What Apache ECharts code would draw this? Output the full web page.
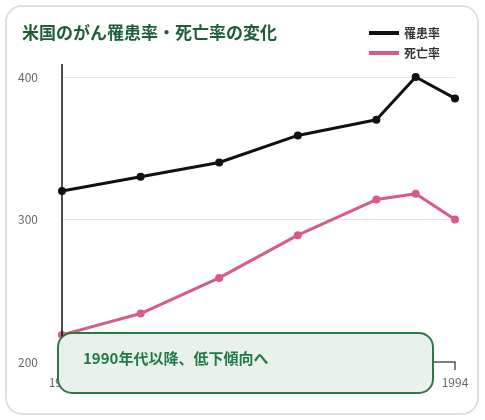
<!DOCTYPE html><html><head><meta charset="utf-8"><script src="https://cdn.jsdelivr.net/npm/echarts@6/dist/echarts.min.js"></script>
<style>body{margin:0}#c{width:485px;height:420px}</style></head><body><div id="c"></div><script>
const years=[1984,1986,1988,1990,1992,1993,1994];
const incidence=[320,330,340,359,370,400,385];
const mortality=[219,234,259,289,314,318,300];
const yTicks=[200,300,400];
const f='"Noto Sans CJK JP","Noto Sans",sans-serif';
const c=echarts.init(document.getElementById('c'));
c.setOption({
graphic:[
{type:'rect',shape:{x:6,y:6,width:472,height:408,r:16},style:{fill:'#fff',stroke:'#d8d8d8',lineWidth:1.5},z:-10},
{type:'line',shape:{x1:62,y1:64,x2:62,y2:362},style:{stroke:'#111',lineWidth:1.5},z:5},
{type:'text',left:22,top:24,style:{text:'米国のがん罹患率・死亡率の変化',font:'bold 17px '+f,fill:'#1e5e36'}},
{type:'rect',shape:{x:58,y:333,width:375,height:60,r:14},style:{fill:'#e9f1ea',stroke:'#2a7a48',lineWidth:2},z:20},
{type:'text',left:83,top:351,style:{text:'1990年代以降、低下傾向へ',font:'bold 15px '+f,fill:'#1f7a45'},z:21}
],
legend:{right:40,top:22,orient:'vertical',itemGap:8,itemWidth:30,itemHeight:4,icon:'rect',textStyle:{fontFamily:f,fontSize:12,color:'#333',fontWeight:'bold'},data:['罹患率','死亡率']},
grid:{left:62,right:30,top:77,bottom:58},
xAxis:{type:'value',min:1984,max:1994,interval:10,axisLine:{show:true,lineStyle:{color:'#555',width:1.5}},axisTick:{show:true,length:8,lineStyle:{color:'#555',width:1.5}},splitLine:{show:false},axisLabel:{color:'#666',fontFamily:f,fontSize:12,margin:14,formatter:v=>String(v)}},
yAxis:{type:'value',min:200,max:400,interval:100,axisLine:{show:false},axisTick:{show:false},splitLine:{lineStyle:{color:'#e4e4e4'}},axisLabel:{color:'#666',fontFamily:f,fontSize:12,margin:24}},
series:[
{name:'罹患率',type:'line',data:years.map((y,i)=>[y,incidence[i]]),color:'#111',lineStyle:{width:3},symbol:'circle',symbolSize:8},
{name:'死亡率',type:'line',data:years.map((y,i)=>[y,mortality[i]]),color:'#d85a8c',lineStyle:{width:3},symbol:'circle',symbolSize:8}
]});
</script></body></html>
